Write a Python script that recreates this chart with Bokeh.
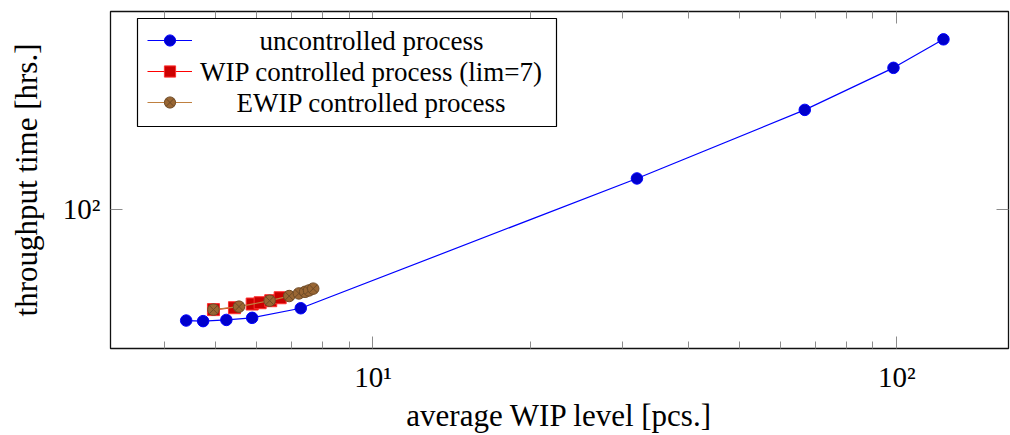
from bokeh.plotting import figure
from bokeh.models import (LogAxis, FixedTicker, Legend, LegendItem, Label,
                          BoxAnnotation, Range1d, LogScale)
from bokeh.embed import file_html
from bokeh.resources import INLINE

# ---- data ----
unc_wip = [4.40, 4.74, 5.25, 5.88, 7.28, 31.9, 66.7, 98.5, 122.7]
unc_tt = [34.6, 34.4, 34.8, 35.5, 38.9, 134.1, 257.9, 385.1, 505.4]
wip_wip = [4.96, 5.44, 5.88, 6.09, 6.38, 6.65]
wip_tt = [38.4, 39.1, 40.5, 41.0, 41.8, 43.0]
ewip_wip = [4.96, 5.55, 6.35, 6.92, 7.22, 7.42, 7.55, 7.69]
ewip_tt = [38.4, 39.5, 41.8, 43.7, 44.8, 45.5, 46.1, 46.9]
series_labels = ["uncontrolled process", "WIP controlled process (lim=7)",
                 "EWIP controlled process"]
x_major = [10, 100]
x_minor = [4, 5, 6, 7, 8, 9, 20, 30, 40, 50, 60, 70, 80, 90]
y_major = [100]
x_tick_labels = {10: "10\u00b9", 100: "10\u00b2"}
y_tick_labels = {100: "10\u00b2"}
x_title = "average WIP level [pcs.]"
y_title = "throughput time [hrs.]"

FONT = "Liberation Serif"

p = figure(width=1010, height=435, x_axis_type=None, y_axis_type=None,
           x_range=Range1d(3.155, 163.3), y_range=Range1d(26.5, 659),
           output_backend="svg", toolbar_location=None,
           min_border_left=110, min_border_right=2,
           min_border_top=11, min_border_bottom=85)
p.x_scale = LogScale()
p.y_scale = LogScale()
p.xgrid.visible = False
p.ygrid.visible = False
p.outline_line_color = "#111111"
p.outline_line_width = 1.3
p.background_fill_color = "white"
p.border_fill_color = "white"

TICK = "#8c8c8c"


def style_axis(ax, show_labels):
    ax.axis_line_color = None
    ax.major_tick_in = 12
    ax.major_tick_out = 0
    ax.minor_tick_in = 7
    ax.minor_tick_out = 0
    ax.major_tick_line_color = TICK
    ax.minor_tick_line_color = TICK
    ax.major_tick_line_width = 1
    ax.minor_tick_line_width = 1
    if show_labels:
        ax.major_label_text_font = FONT
        ax.major_label_text_font_size = "29px"
        ax.major_label_text_color = "black"
        ax.axis_label_text_font = FONT
        ax.axis_label_text_font_size = "31px"
        ax.axis_label_text_font_style = "normal"
        ax.axis_label_text_color = "black"
    else:
        ax.major_label_text_color = None
        ax.major_label_text_font_size = "1px"
        ax.major_label_standoff = 0


xt = FixedTicker(ticks=x_major, minor_ticks=x_minor)
yt = FixedTicker(ticks=y_major, minor_ticks=[])

bottom = LogAxis(ticker=xt, axis_label=x_title, major_label_overrides=x_tick_labels)
style_axis(bottom, True)
bottom.major_label_standoff = 12
bottom.axis_label_standoff = 2
p.add_layout(bottom, "below")

left = LogAxis(ticker=yt, axis_label=y_title, major_label_overrides=y_tick_labels)
style_axis(left, True)
left.major_label_standoff = 10
left.axis_label_standoff = 16
p.add_layout(left, "left")

top = LogAxis(ticker=FixedTicker(ticks=x_major, minor_ticks=x_minor))
style_axis(top, False)
p.add_layout(top, "above")

right = LogAxis(ticker=FixedTicker(ticks=y_major, minor_ticks=[]))
style_axis(right, False)
p.add_layout(right, "right")

# ---- series ----
l1 = p.line(unc_wip, unc_tt, line_color="#0000ff", line_width=1.2)
s1 = p.scatter(unc_wip, unc_tt, marker="circle", size=11.5,
               fill_color="#0000cc", line_color="#0000ff", line_width=1)
l2 = p.line(wip_wip, wip_tt, line_color="#ff0000", line_width=1.2)
s2 = p.scatter(wip_wip, wip_tt, marker="square", size=12,
               fill_color="#cc0000", line_color="#ff3030", line_width=1)
l3 = p.line(ewip_wip, ewip_tt, line_color="#bf8040", line_width=1.2)
s3 = p.scatter(ewip_wip, ewip_tt, marker="circle_x", size=11.5,
               fill_color="#996633", line_color="#6e4a26", line_width=1)

# ---- legend (box, samples, centred labels) ----
box = BoxAnnotation(left=27, right=446, top=330, bottom=222,
                    left_units="screen", right_units="screen",
                    top_units="screen", bottom_units="screen",
                    fill_color="white", fill_alpha=1.0,
                    line_color="black", line_alpha=1.0, line_width=1.2,
                    level="annotation")
p.add_layout(box)

legend = Legend(items=[LegendItem(label=series_labels[0], renderers=[l1, s1]),
                       LegendItem(label=series_labels[1], renderers=[l2, s2]),
                       LegendItem(label=series_labels[2], renderers=[l3, s3])],
                location=(37, 232), glyph_width=45, glyph_height=28,
                label_height=28, label_width=0, label_standoff=0,
                spacing=3, padding=0, margin=0,
                border_line_color=None, background_fill_alpha=0.0,
                label_text_color=None, label_text_font_size="1px")
p.add_layout(legend)

for i, lab in enumerate(series_labels):
    p.add_layout(Label(x=261, y=308 - 31 * i, x_units="screen", y_units="screen",
                       text=lab, text_align="center", text_baseline="middle",
                       text_font=FONT, text_font_size="27px", text_color="black"))

open("out.html", "w").write(file_html(p, INLINE))
